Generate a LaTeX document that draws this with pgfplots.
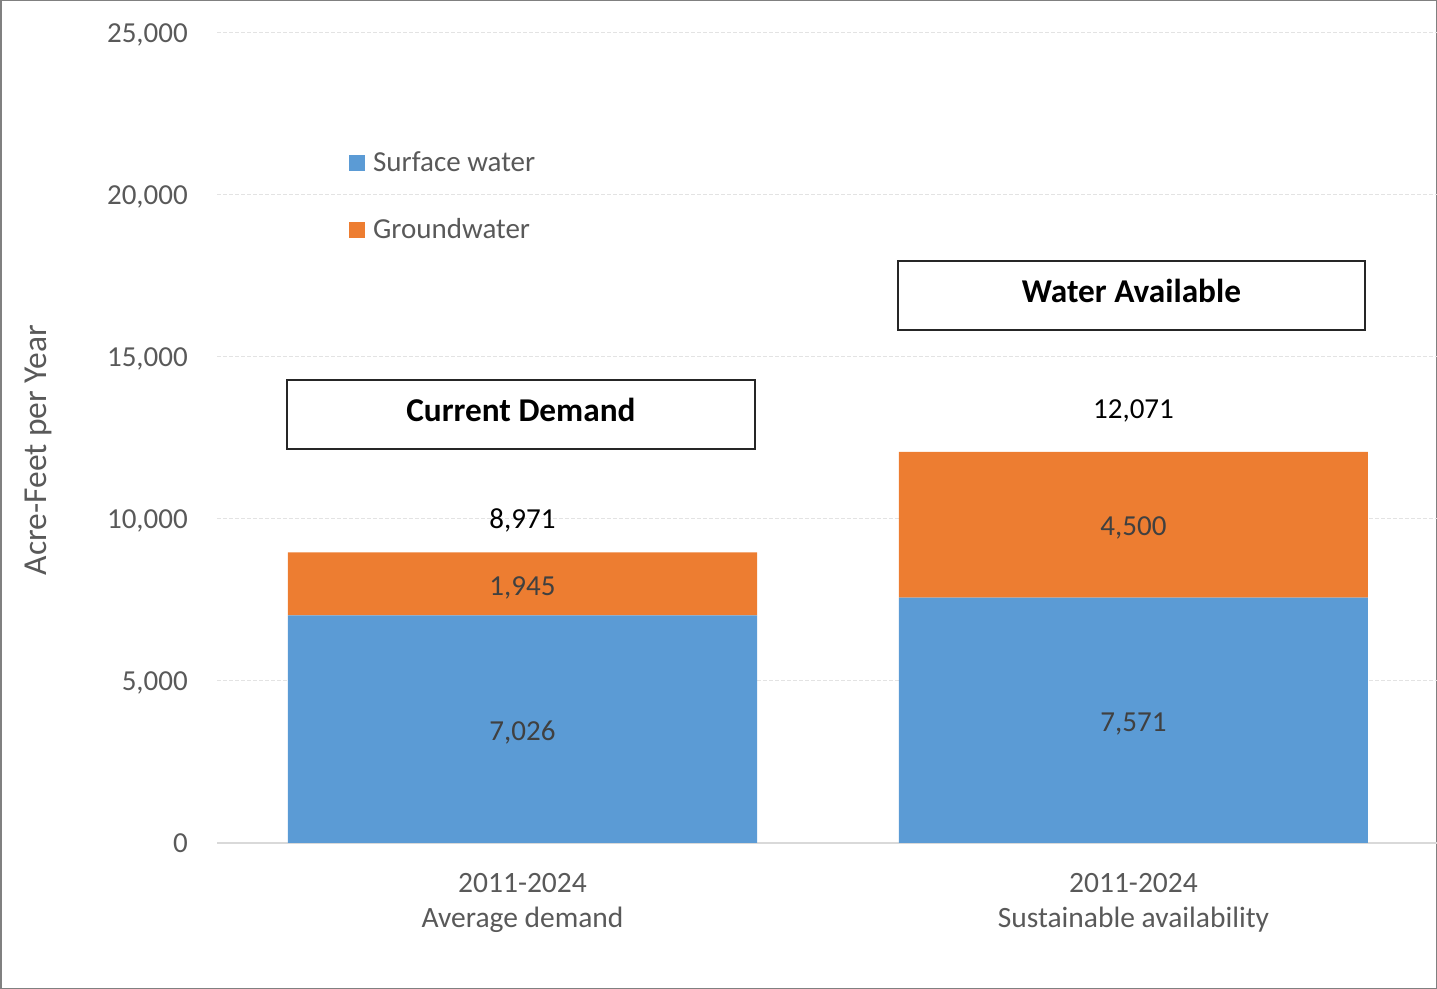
\documentclass[border=0pt]{standalone}
\usepackage{pgfplots}
\usepackage{pgfplotstable}
\pgfplotsset{compat=1.18}
\usepackage{fontspec}
\setmainfont{Carlito}
\definecolor{sw}{HTML}{5B9BD5}
\definecolor{gw}{HTML}{ED7D31}
\definecolor{tickc}{HTML}{595959}
\definecolor{lbl}{HTML}{404040}
\definecolor{axc}{HTML}{D9D9D9}
\definecolor{gridc}{HTML}{E3E3E3}
\pgfplotstableread{
x sw gw
0 7026 1945
1 7571 4500
}\datatable
\newcommand{\fs}{\fontsize{29bp}{35bp}\selectfont}
\newcommand{\fx}{\fontsize{29.5bp}{35bp}\selectfont}
\newcommand{\fy}{\fontsize{33.5bp}{38bp}\selectfont}
\newcommand{\fb}{\fontsize{33.3bp}{38bp}\selectfont\bfseries}
\begin{document}
\begin{tikzpicture}
\useasboundingbox (0bp,0bp) rectangle (1437bp,989bp);
\draw[color=gray, line width=1.5bp] (0.75bp,0.75bp) rectangle (1436.25bp,988.25bp);
\begin{axis}[
  at={(217bp,146bp)}, anchor=south west,
  scale only axis, width=1222bp, height=810bp,
  ybar stacked, bar width=469bp,
  xmin=-0.5, xmax=1.5, ymin=0, ymax=25000,
  xtick={0,1},
  xticklabels={{2011-2024\\Average demand},{2011-2024\\Sustainable availability}},
  ytick={0,5000,10000,15000,20000,25000},
  axis lines=left,
  axis line style={-},
  y axis line style={draw=none},
  x axis line style={draw=axc, line width=2bp},
  major tick length=0pt,
  ymajorgrids,
  grid style={draw=gridc, line width=1bp, dash pattern=on 4bp off 2bp},
  scaled y ticks=false,
  /pgf/number format/.cd, fixed, 1000 sep={,}, assume math mode=true,
  /pgfplots/.cd,
  yticklabel style={font=\fs, text=tickc, inner sep=0pt, xshift=-29bp, text depth=0pt},
  xticklabel style={font=\fx, text=tickc, align=center, inner sep=0pt, yshift=-30bp},
  ylabel={Acre-Feet per Year},
  ylabel style={font=\fy, text=tickc, at={(axis description cs:-0.1465,0.485)}, anchor=center, rotate=0},
  legend style={at={(axis description cs:0.108,0.854)}, anchor=north west, draw=none, fill=none, inner sep=0pt,
     font=\fs, text=tickc, row sep=41bp,
     nodes={inner sep=0pt, text height=20bp, text depth=6bp},
     /tikz/every odd column/.append style={column sep=8bp}},
  legend cell align=left,
  clip=false,
]
\addplot[fill=sw, draw=none, legend image code/.code={\fill[sw] (0bp,-7bp) rectangle (16bp,9bp);}] table[x=x,y=sw]{\datatable};
\addlegendentry{Surface water}
\addplot[fill=gw, draw=none, legend image code/.code={\fill[gw] (0bp,-7bp) rectangle (16bp,9bp);}] table[x=x,y=gw]{\datatable};
\addlegendentry{Groundwater}
\coordinate (s0) at (axis cs:0,3513);
\coordinate (g0) at (axis cs:0,7998);
\coordinate (s1) at (axis cs:1,3785);
\coordinate (g1) at (axis cs:1,9821);
\coordinate (t0) at (axis cs:0,10000);
\coordinate (t1) at (axis cs:1,13395);
\coordinate (b0) at (axis cs:-0.0025,13225);
\coordinate (b1) at (axis cs:0.9967,16898);
\end{axis}
% segment labels
\node[font=\fs, text=lbl, text depth=0pt, yshift=-2bp] at (s0) {7,026};
\node[font=\fs, text=lbl, text depth=0pt, yshift=-2bp] at (g0) {1,945};
\node[font=\fs, text=lbl, text depth=0pt, yshift=-2bp] at (s1) {7,571};
\node[font=\fs, text=lbl, text depth=0pt, yshift=-1bp] at (g1) {4,500};
% totals
\node[font=\fs, text=black, text depth=0pt] at (t0) {8,971};
\node[font=\fs, text=black, text depth=0pt] at (t1) {12,071};
% boxes
\node[draw=black!85, line width=1.3bp, fill=white, minimum width=468bp, minimum height=69bp] (B0) at (b0) {};
\node[font=\fb, text=black] at ([yshift=5bp]B0.center) {Current Demand};
\node[draw=black!85, line width=1.3bp, fill=white, minimum width=467bp, minimum height=69bp] (B1) at (b1) {};
\node[font=\fb, text=black] at ([yshift=5bp]B1.center) {Water Available};
\end{tikzpicture}
\end{document}
